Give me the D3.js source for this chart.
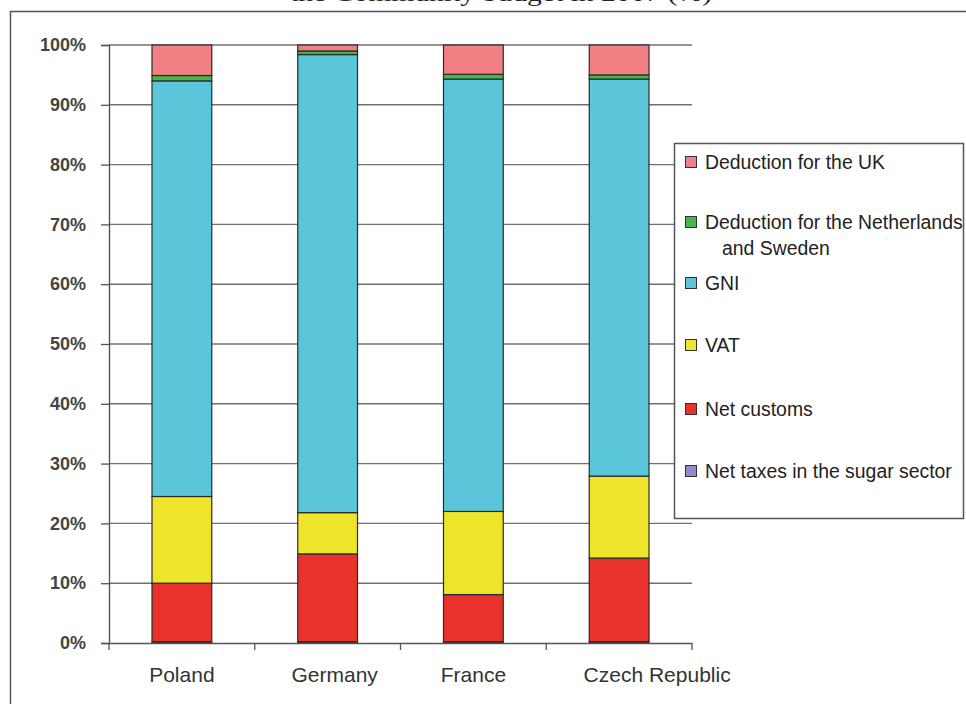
<!DOCTYPE html>
<html>
<head>
<meta charset="utf-8">
<script src="https://cdn.jsdelivr.net/npm/d3@7"></script>
<style>
  html, body { margin: 0; padding: 0; background: #fff; }
  svg { display: block; }
</style>
</head>
<body>
<svg id="chart" width="966" height="704"></svg>
<script>
// ---- data ----
const countries = ["Poland", "Germany", "France", "Czech Republic"];
const seriesNames = ["Net taxes in the sugar sector", "Net customs", "VAT", "GNI",
                     "Deduction for the Netherlands and Sweden", "Deduction for the UK"];
const sugar    = [0.2, 0.2, 0.2, 0.2];
const customs  = [9.8, 14.7, 7.9, 14.0];
const vat      = [14.5, 6.9, 13.9, 13.7];
const gni      = [69.5, 76.6, 72.3, 66.4];
const nlse     = [0.9, 0.6, 0.8, 0.7];
const uk       = [5.1, 1.0, 4.9, 5.0];
const yTicks   = [0, 10, 20, 30, 40, 50, 60, 70, 80, 90, 100];
const colors   = ["#8e8ccc", "#e8322b", "#eee52a", "#5bc5d9", "#46b54c", "#f27f84"];
const legendOrder = [5, 4, 3, 2, 1, 0];
const legendLabels = [["Deduction for the UK"], ["Deduction for the Netherlands", "and Sweden"],
                      ["GNI"], ["VAT"], ["Net customs"], ["Net taxes in the sugar sector"]];
const titleText = "the Community budget in 2007 (%)";

// ---- build ----
const values = [sugar, customs, vat, gni, nlse, uk];
const rows = countries.map((c, i) => {
  const r = { country: c };
  seriesNames.forEach((s, k) => r[s] = values[k][i]);
  return r;
});
const stacked = d3.stack().keys(seriesNames)(rows);

const svg = d3.select("#chart");
const font = "'Liberation Sans', Arial, sans-serif";

// frame and title (title is cut by the top edge, as in the source)
svg.append("text").attr("x", 290).attr("y", 1)
  .attr("textLength", 422).attr("lengthAdjust", "spacingAndGlyphs")
  .attr("font-family", "'Liberation Serif', 'Times New Roman', serif")
  .attr("font-size", 24).attr("fill", "#222").text(titleText);
svg.append("rect").attr("x", 10.5).attr("y", 11.5).attr("width", 970).attr("height", 720)
  .attr("fill", "none").attr("stroke", "#555").attr("stroke-width", 1.5);

const x0 = 109, x1 = 692, yTop = 45, yBot = 643;
const x = d3.scaleBand().domain(countries).range([x0, x1]).padding(0);
const y = d3.scaleLinear().domain([0, 100]).range([yBot, yTop]);
const barW = x.bandwidth() * 0.41;

// gridlines
svg.append("g").selectAll("line").data(yTicks.filter(t => t > 0)).join("line")
  .attr("x1", x0).attr("x2", x1)
  .attr("y1", d => y(d)).attr("y2", d => y(d))
  .attr("stroke", "#707070").attr("stroke-width", 1.4);

// bars
const g = svg.append("g");
stacked.forEach((layer, k) => {
  g.append("g").selectAll("rect").data(layer).join("rect")
    .attr("x", d => x(d.data.country) + (x.bandwidth() - barW) / 2)
    .attr("y", d => y(d[1]))
    .attr("width", barW)
    .attr("height", d => y(d[0]) - y(d[1]))
    .attr("fill", colors[k])
    .attr("stroke", "#2a2a2a").attr("stroke-width", 1.2);
});

// y axis
const yAxis = svg.append("g").attr("transform", `translate(${x0},0)`)
  .call(d3.axisLeft(y).tickValues(yTicks).tickFormat(d => d + "%").tickSize(8).tickPadding(15));
yAxis.select(".domain").attr("stroke", "#555").attr("stroke-width", 1.4);
yAxis.selectAll(".tick line").attr("stroke", "#555").attr("stroke-width", 1.3);
yAxis.selectAll("text").attr("font-family", font).attr("font-size", 18)
  .attr("font-weight", "bold").attr("fill", "#444");

// x axis
const xAxis = svg.append("g").attr("transform", `translate(0,${yBot})`)
  .call(d3.axisBottom(x).tickSize(0).tickPadding(24));
xAxis.select(".domain").attr("stroke", "#555").attr("stroke-width", 1.4);
xAxis.selectAll("text").attr("font-family", font).attr("font-size", 21).attr("fill", "#333")
  .attr("dx", (d, i) => i === 1 ? 7 : (i === 3 ? 38 : 0));
// category separators
const bounds = d3.range(countries.length + 1).map(i => x0 + i * x.step());
svg.append("g").selectAll("line").data(bounds).join("line")
  .attr("x1", d => d).attr("x2", d => d)
  .attr("y1", yBot).attr("y2", yBot + 7)
  .attr("stroke", "#555").attr("stroke-width", 1.3);

// legend
const lg = svg.append("g");
lg.append("rect").attr("x", 674.5).attr("y", 143.5).attr("width", 289).attr("height", 375)
  .attr("fill", "#fff").attr("stroke", "#555").attr("stroke-width", 1.5);
const legendY = [162, 222, 283, 345, 409, 471];
legendOrder.forEach((k, j) => {
  lg.append("rect").attr("x", 685.5).attr("y", legendY[j] - 5.5).attr("width", 11).attr("height", 11)
    .attr("fill", colors[k]).attr("stroke", "#333").attr("stroke-width", 1);
  legendLabels[j].forEach((line, li) => {
    lg.append("text").attr("x", li === 0 ? 705 : 722).attr("y", legendY[j] + li * 26 + 6.5)
      .attr("font-family", font).attr("font-size", 19.4).attr("fill", "#222").text(line);
  });
});
</script>
</body>
</html>
